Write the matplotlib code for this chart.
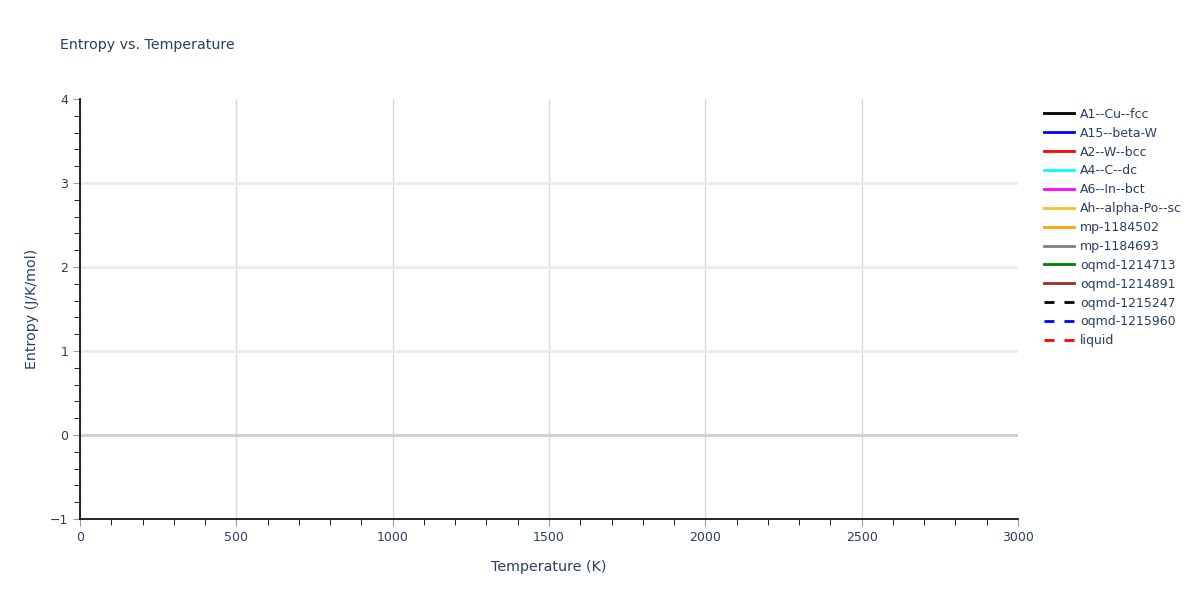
import matplotlib.pyplot as plt
from matplotlib.ticker import MultipleLocator

# Series names / colours (no data points in the chart)
names = ["A1--Cu--fcc", "A15--beta-W", "A2--W--bcc", "A4--C--dc", "A6--In--bct",
         "Ah--alpha-Po--sc", "mp-1184502", "mp-1184693", "oqmd-1214713",
         "oqmd-1214891", "oqmd-1215247", "oqmd-1215960", "liquid"]
colors = ["black", "blue", "red", "cyan", "magenta", "#f0c030", "orange", "gray",
          "green", "brown", "black", "blue", "red"]
styles = ["-"] * 10 + ["--"] * 3
temperature = [[] for _ in names]
entropy = [[] for _ in names]
yticks = [-1, 0, 1, 2, 3, 4]
ytick_labels = ["\u22121", "0", "1", "2", "3", "4"]

txt = "#2a3f5f"
plt.rcParams["font.family"] = ["DejaVu Sans"]

fig = plt.figure(figsize=(12, 6), dpi=100)
ax = fig.add_axes([80 / 1200, 1 - 519 / 600, 938 / 1200, 420 / 600])

for n, c, s, x, y in zip(names, colors, styles, temperature, entropy):
    ls = (0, (3.6, 3.6)) if s == "--" else "-"
    ax.plot(x, y, color=c, linestyle=ls, linewidth=2, label=n)

ax.set_xlim(0, 3000)
ax.xaxis.set_major_locator(MultipleLocator(500))
ax.xaxis.set_minor_locator(MultipleLocator(100))
ax.set_yticks(yticks, ytick_labels)
ax.yaxis.set_minor_locator(MultipleLocator(0.2))
ax.set_ylim(-1, 4)

ax.grid(axis="x", which="major", color="#d9d9d9", linewidth=1)
ax.grid(axis="y", which="major", color="#ebebeb", linewidth=2)
ax.axhline(0, color="#d0d0d0", linewidth=2, zorder=1)
ax.set_axisbelow(True)
# no grid lines on the plot edges
ax.get_ygridlines()[-1].set_visible(False)
for gl in ax.get_xgridlines()[-2:]:
    gl.set_visible(False)

for side in ["top", "right"]:
    ax.spines[side].set_visible(False)
for side in ["left", "bottom"]:
    ax.spines[side].set_color("black")
    ax.spines[side].set_linewidth(1.2)

ax.tick_params(which="major", direction="out", length=5, color="#999999",
               labelsize=9, labelcolor=txt)
ax.tick_params(which="minor", direction="out", length=4, color="black")

ax.set_xlabel("Temperature (K)", fontsize=10.3, color=txt, labelpad=12)
ax.set_ylabel("Entropy (J/K/mol)", fontsize=10.3, color=txt, labelpad=8)
fig.text(60 / 1200, 1 - 45 / 600, "Entropy vs. Temperature", fontsize=10.2,
         color=txt, va="center")

leg = ax.legend(loc="upper left", bbox_to_anchor=(1.018, 1.0), frameon=False,
                fontsize=9, handlelength=2.4, handletextpad=0.5,
                labelspacing=0.47, borderaxespad=0.3)
for t in leg.get_texts():
    t.set_color(txt)

fig.savefig("out.png", dpi=100)
